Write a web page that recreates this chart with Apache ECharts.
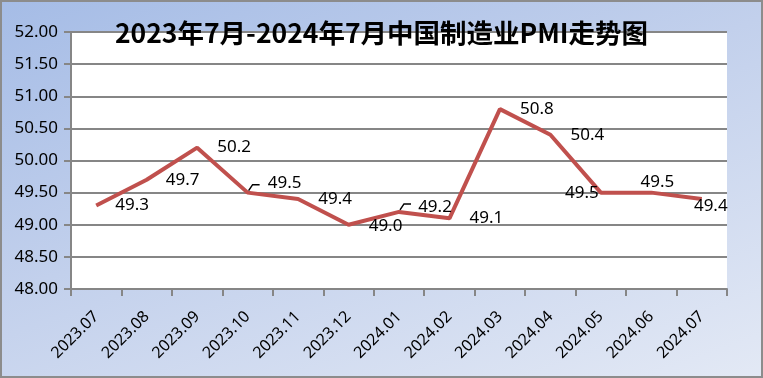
<!DOCTYPE html>
<html>
<head>
<meta charset="utf-8">
<script src="https://cdn.jsdelivr.net/npm/echarts@6/dist/echarts.min.js"></script>
<style>
html,body{margin:0;padding:0;}
#chart{width:763px;height:378px;background:linear-gradient(160deg,#a5bce6 0%,#c2d0ec 45%,#e3e9f5 100%);box-shadow:inset 0 0 0 2px #8c8c8c;}
</style>
</head>
<body>
<div id="chart"></div>
<script>
const titleText = '2023年7月-2024年7月中国制造业PMI走势图';
const categories = ['2023.07','2023.08','2023.09','2023.10','2023.11','2023.12','2024.01','2024.02','2024.03','2024.04','2024.05','2024.06','2024.07'];
const pmiValues = [49.3, 49.7, 50.2, 49.5, 49.4, 49.0, 49.2, 49.1, 50.8, 50.4, 49.5, 49.5, 49.4];
const yTicks = {min: 48, max: 52, interval: 0.5};

// label placement (layout only)
const labelOffsets = [[36,0],[36,0],[37,0],[37,-9],[37,0],[37,1],[36,-5],[37,0],[37,0],[37,0],[-19,1],[6,-10],[9,7]];
const leaderIdx = [3, 6];

const chart = echarts.init(document.getElementById('chart'));
const font = 'Noto Sans';
chart.setOption({
  animation: false,
  title: {
    text: titleText, left: 'center', top: 15,
    textStyle: {fontFamily: 'Noto Sans CJK SC', fontSize: 26.5, fontWeight: 'bold', color: '#000'}
  },
  grid: {left: 71, right: 36, top: 32, bottom: 89, show: true, backgroundColor: '#ffffff', borderWidth: 0},
  xAxis: {
    type: 'category', data: categories, boundaryGap: true,
    axisLine: {lineStyle: {color: '#868686', width: 2}},
    axisTick: {show: true, length: 7, alignWithLabel: false, lineStyle: {color: '#868686', width: 2}},
    axisLabel: {rotate: 45, margin: 25, color: '#000', fontFamily: font, fontSize: 16, interval: 0},
    splitLine: {show: false}
  },
  yAxis: {
    type: 'value', min: yTicks.min, max: yTicks.max, interval: yTicks.interval,
    axisLine: {show: true, lineStyle: {color: '#868686', width: 2}},
    axisTick: {show: true, length: 7, lineStyle: {color: '#868686', width: 2}},
    axisLabel: {margin: 13, color: '#000', fontFamily: font, fontSize: 17, formatter: v => v.toFixed(2)},
    splitLine: {show: true, lineStyle: {color: '#868686', width: 2}}
  },
  series: [
    {
      type: 'line', data: pmiValues.map((v, i) => ({value: v, label: {offset: labelOffsets[i]}})),
      symbol: 'circle', symbolSize: 1, showSymbol: true,
      itemStyle: {color: 'rgba(0,0,0,0)'},
      lineStyle: {color: '#c0504d', width: 4},
      label: {show: true, position: 'inside', color: '#000', fontFamily: font, fontSize: 17,
        formatter: p => p.value.toFixed(1)},
      z: 3
    },
    {
      type: 'custom',
      data: leaderIdx.map(i => [i, pmiValues[i]]),
      renderItem: function (params, api) {
        const p = api.coord([api.value(0), api.value(1)]);
        return {
          type: 'polyline',
          shape: {points: [[p[0] + 1, p[1] - 2], [p[0] + 5, p[1] - 8], [p[0] + 12, p[1] - 8]]},
          style: {stroke: '#000', lineWidth: 1.5, fill: null}
        };
      },
      z: 4, silent: true
    }
  ]
});
</script>
</body>
</html>
